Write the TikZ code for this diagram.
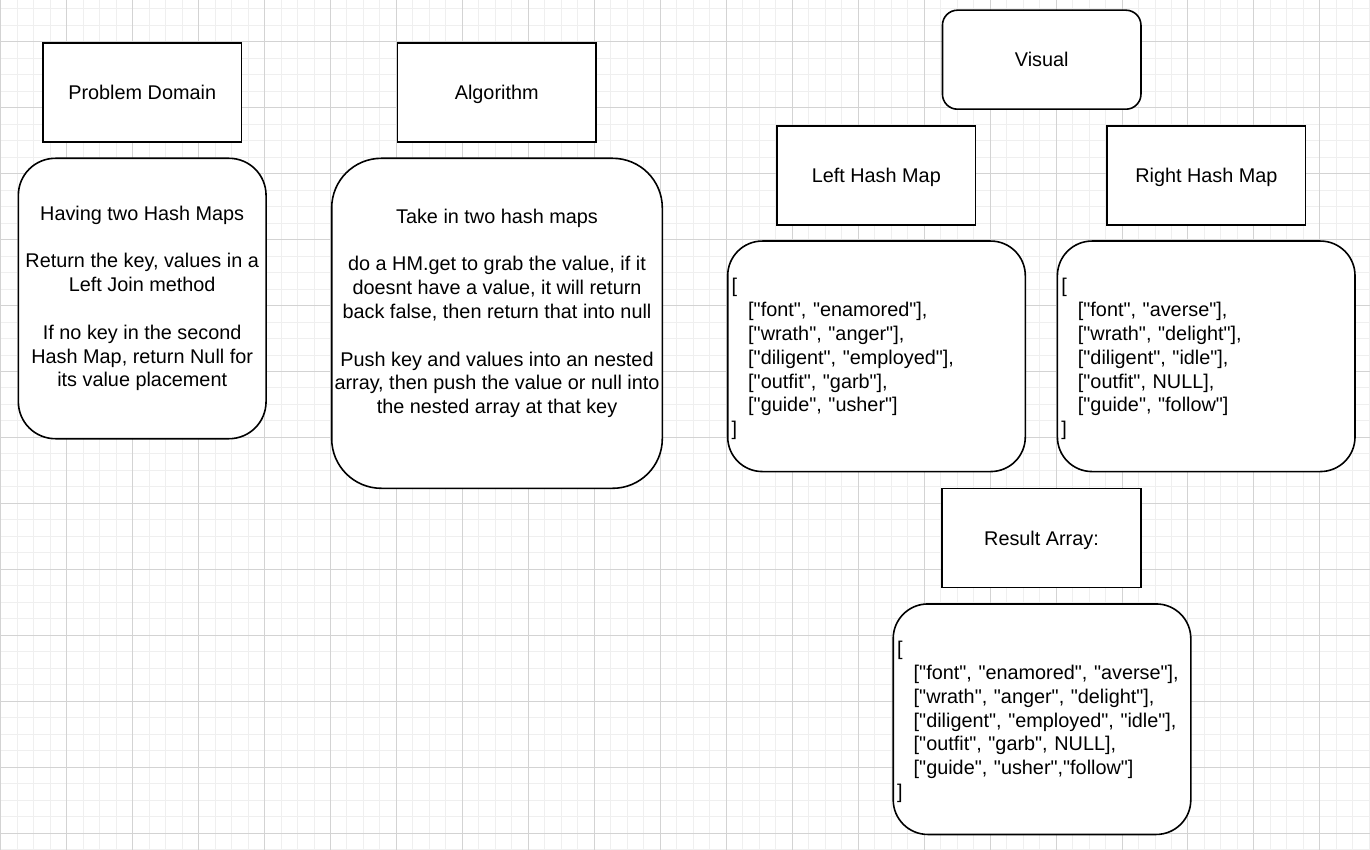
\documentclass[tikz,border=0pt]{standalone}
\usepackage{fontspec}
\setmainfont{Liberation Sans}[Ligatures=TeXOff]
\usepackage{xcolor}
\usepackage{tikz}

\definecolor{gridmajor}{HTML}{D3D3D3}
\definecolor{gridminor}{HTML}{EFEFEF}
\newcommand{\ind}{\hspace*{16.5pt}}
\newcommand{\boxfont}{\fontsize{19.84}{23.8}\selectfont}

\begin{document}
\begin{tikzpicture}[x=1pt, y=-1pt,
    titlebox/.style={draw=black, line width=1.6pt, fill=white, inner sep=0pt, minimum width=198.5pt, minimum height=99pt, text height=14.2pt, text depth=0pt, font=\boxfont},
    notebox/.style={draw=black, line width=1.6pt, fill=white, inner sep=0pt, align=center, font=\boxfont},
    listbox/.style={draw=black, line width=1.6pt, fill=white, inner xsep=4pt, inner ysep=0pt, text width=289.6pt, minimum height=230.5pt, align=left, rounded corners=34.6pt, font=\boxfont}]
    \useasboundingbox (0,0) rectangle (1370,850);
    \fill[white] (0,0) rectangle (1370,850);
    % grid
    \foreach \k in {0,...,83}
        \draw[gridminor, line width=1pt] ({0.7+16.49*\k},0) -- ({0.7+16.49*\k},850);
    \foreach \k in {-2,...,49}
        \draw[gridminor, line width=1pt] (0,{41.7+16.49*\k}) -- (1370,{41.7+16.49*\k});
    \foreach \k in {0,...,20}
        \draw[gridmajor, line width=1pt] ({0.7+65.96*\k},0) -- ({0.7+65.96*\k},850);
    \foreach \k in {0,...,12}
        \draw[gridmajor, line width=1pt] (0,{41.7+65.96*\k}) -- (1370,{41.7+65.96*\k});

    \coordinate (PD) at (142.2,92.8);
    \coordinate (AL) at (496.7,92.8);
    \coordinate (VI) at (1041.7,59.7);
    \coordinate (LH) at (876.3,175.3);
    \coordinate (RH) at (1206.4,175.3);
    \coordinate (RA) at (1041.5,538);

    % headings
    \node[titlebox] (domain) at (PD) {Problem Domain};
    \node[titlebox] (algorithm) at (AL) {Algorithm};
    \node[titlebox, rounded corners=15pt] (visual) at (VI) {Visual};
    \node[titlebox] (lefthm) at (LH) {Left Hash Map};
    \node[titlebox] (righthm) at (RH) {Right Hash Map};
    \node[titlebox] (result) at (RA) {Result Array:};

    % notes
    \node[notebox, minimum width=247.7pt, minimum height=280.4pt, rounded corners=37pt] (domainnote) at (142.2,298.5)
        {Having two Hash Maps\\ ~\\ Return the key, values in a\\ Left Join method\\ ~\\ If no key in the second\\ Hash Map, return Null for\\ its value placement};
    \node[notebox, minimum width=330.6pt, minimum height=330pt, rounded corners=49.6pt] (algnote) at (497,323.3)
        {Take in two hash maps\\ ~\\ do a HM.get to grab the value, if it\\ doesnt have a value, it will return\\ back false, then return that into null\\ ~\\ Push key and values into an nested\\ array, then push the value or null into\\ the nested array at that key\\ ~};

    % hash map contents
    \node[listbox] (leftlist) at (876.5,356.3)
        {\rule{0pt}{20pt}[\\ \ind["font", "enamored"],\\ \ind["wrath", "anger"],\\ \ind["diligent", "employed"],\\ \ind["outfit", "garb"],\\ \ind["guide", "usher"]\\ ]};
    \node[listbox] (rightlist) at (1206.2,356.3)
        {\rule{0pt}{20pt}[\\ \ind["font", "averse"],\\ \ind["wrath", "delight"],\\ \ind["diligent", "idle"],\\ \ind["outfit", NULL],\\ \ind["guide", "follow"]\\ ]};
    \node[listbox] (resultlist) at (1042,719.2)
        {\rule{0pt}{20pt}[\\ \ind["font", "enamored", "averse"],\\ \ind["wrath", "anger", "delight"],\\ \ind["diligent", "employed", "idle"],\\ \ind["outfit", "garb", NULL],\\ \ind["guide", "usher","follow"]\\ ]};
\end{tikzpicture}
\end{document}
